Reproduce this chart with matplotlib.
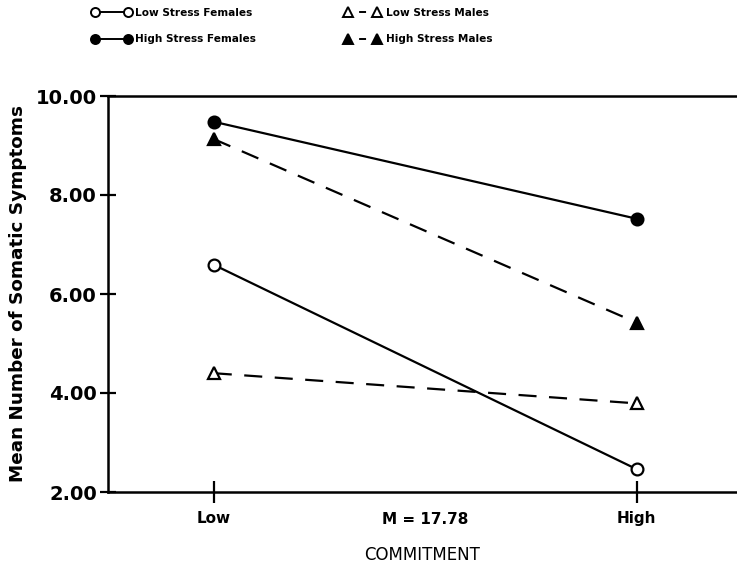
import matplotlib
matplotlib.use("Agg")
import matplotlib.pyplot as plt
from matplotlib.lines import Line2D
from matplotlib.transforms import blended_transform_factory

plt.rcParams['font.family'] = ['DejaVu Sans']
plt.rcParams['lines.scale_dashes'] = False

commitment = ["Low", "High"]
x_pos = [0, 1]
low_stress_females = [6.59, 2.46]
high_stress_females = [9.48, 7.52]
low_stress_males = [4.40, 3.79]
high_stress_males = [9.13, 5.42]
y_ticks = [2.0, 4.0, 6.0, 8.0, 10.0]
mean_label = "M = 17.78"

fig = plt.figure(figsize=(7.37, 5.67), dpi=100)
ax = fig.add_axes([108/737, 75/567, (737-108)/737, (492-96)/567])

lw = 1.6
dash = (13, 9)
common = dict(color='black', lw=lw, markersize=8.5, markeredgewidth=1.6, markeredgecolor='black')
ax.plot(x_pos, low_stress_females, '-', marker='o', markerfacecolor='white', label='Low Stress Females', **common)
ax.plot(x_pos, high_stress_females, '-', marker='o', markerfacecolor='black', label='High Stress Females', **common)
l1, = ax.plot(x_pos, low_stress_males, '--', marker='^', markerfacecolor='white', label='Low Stress Males', **common)
l2, = ax.plot(x_pos, high_stress_males, '--', marker='^', markerfacecolor='black', label='High Stress Males', **common)
l1.set_dashes(dash)
l2.set_dashes(dash)

ax.set_xlim(-0.25, 1.237)
ax.set_ylim(2.0, 10.0)
ax.set_yticks(y_ticks)
ax.set_yticklabels([f"{v:.2f}" for v in y_ticks], fontsize=14, fontweight='bold')
ax.set_xticks(x_pos)
ax.set_xticklabels(commitment, fontsize=11, fontweight='bold')
ax.tick_params(axis='y', direction='inout', length=12, width=1.6, pad=2)
ax.tick_params(axis='x', direction='inout', length=16, width=1.6, pad=6)
for s in ['left', 'bottom', 'top']:
    ax.spines[s].set_linewidth(1.8)
ax.spines['right'].set_visible(False)

trans = blended_transform_factory(ax.transData, ax.transAxes)
ax.text(0.5, -0.05, mean_label, transform=trans, ha='center', va='top', fontsize=11, fontweight='bold')
ax.set_xlabel("COMMITMENT", fontsize=12, labelpad=14)
ax.set_ylabel("Mean Number of Somatic Symptoms", fontsize=13.2, fontweight='bold', labelpad=6)

def handle(marker, fill, ls):
    h = Line2D([], [], color='black', lw=1.4, marker=marker, markersize=6.5,
               markerfacecolor=fill, markeredgecolor='black', markeredgewidth=1.4, linestyle=ls)
    if ls == '--':
        h.set_dashes((0, 8, 5, 10))
    return h

leg_kw = dict(frameon=False, numpoints=2, handlelength=3.67, handletextpad=0.4,
              labelspacing=1.55, prop={'weight': 'bold', 'size': 7.6}, borderpad=0, borderaxespad=0)
leg1 = fig.legend([handle('o', 'white', '-'), handle('o', 'black', '-')],
                  ['Low Stress Females', 'High Stress Females'],
                  loc='upper left', bbox_to_anchor=(92/737, 1 - 8/567), **leg_kw)
leg_kw['handlelength'] = 3.3
leg_kw['handletextpad'] = 0.6
leg2 = fig.legend([handle('^', 'white', '--'), handle('^', 'black', '--')],
                  ['Low Stress Males', 'High Stress Males'],
                  loc='upper left', bbox_to_anchor=(345/737, 1 - 8/567), **leg_kw)

fig.savefig("out.png", dpi=100)
